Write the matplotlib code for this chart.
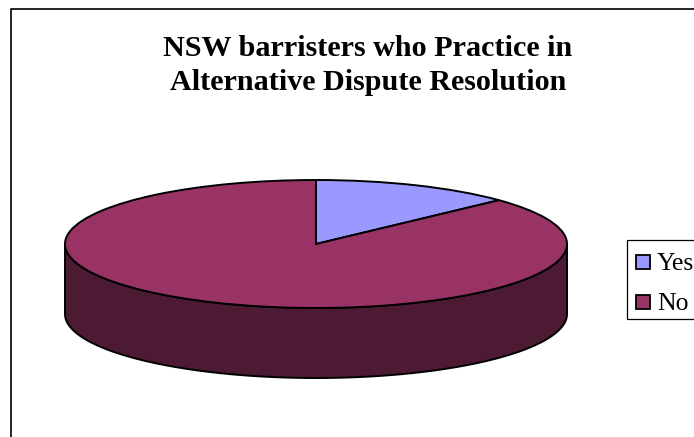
import numpy as np
import matplotlib
matplotlib.use('Agg')
import matplotlib.pyplot as plt
from matplotlib.lines import Line2D
from matplotlib.patches import Rectangle

plt.rcParams['font.family'] = ['Liberation Serif', 'DejaVu Serif']

# data
labels = ['Yes', 'No']
values = [13, 87]
colors = ['#9999FF', '#993366']
title_lines = ['NSW barristers who Practice in', 'Alternative Dispute Resolution']

W, H = 694, 437
fig = plt.figure(figsize=(W / 100, H / 100), dpi=100)

# pie top sits in its own axes, squashed to an ellipse
cx, cy, rx, ry, depth = 316, 244, 251, 64, 70
ax = fig.add_axes([(cx - rx) / W, 1 - (cy + ry) / H, 2 * rx / W, 2 * ry / H])

# side wall of the 3d pie
t = np.linspace(np.pi, 2 * np.pi, 200)
d = depth / ry
wx = np.concatenate([np.cos(t), np.cos(t[::-1])])
wy = np.concatenate([np.sin(t) - d, np.sin(t[::-1])])
ax.fill(wx, wy, facecolor='#4D1A33', edgecolor='black', lw=1.4, clip_on=False)

wedges, _ = ax.pie(values, colors=colors, startangle=90, counterclock=False,
                   wedgeprops={'edgecolor': 'black', 'linewidth': 1.4})
ax.set_aspect('auto')
ax.set_xlim(-1, 1)
ax.set_ylim(-1, 1)
for w in wedges:
    w.set_clip_on(False)

# outer chart border, runs off the right and bottom of the image
fig.add_artist(Line2D([10.5 / W, 10.5 / W, 1], [0, 1 - 8.5 / H, 1 - 8.5 / H],
                      color='black', lw=1.2))

for line, base in zip(title_lines, [55.5, 90]):
    fig.text(368 / W, 1 - base / H, line, ha='center', va='baseline', fontsize=21.7,
             fontweight='bold')

# legend box
fig.add_artist(Rectangle((626.5 / W, 1 - 319 / H), 90 / W, 79 / H, transform=fig.transFigure,
                         facecolor='white', edgecolor='black', lw=0.9))
for lab, col, ym in zip(labels, colors, [261.5, 301.5]):
    fig.add_artist(Rectangle((635.5 / W, 1 - (ym + 7) / H), 14 / W, 14 / H, transform=fig.transFigure,
                             facecolor=col, edgecolor='black', lw=1.3))
    fig.text(657 / W, 1 - (ym + 9) / H, lab, ha='left', va='baseline', fontsize=18.5)

fig.savefig('out.png', dpi=100)
